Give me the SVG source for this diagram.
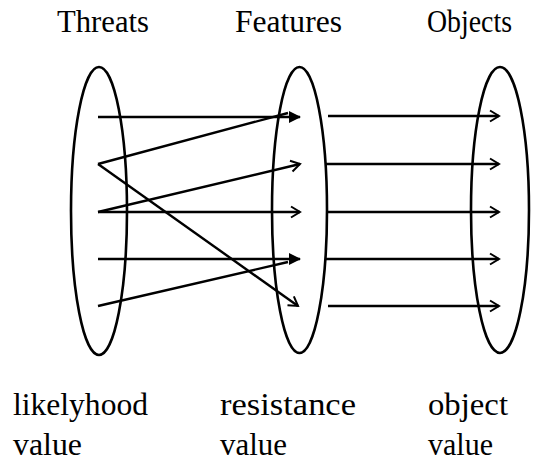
<svg xmlns="http://www.w3.org/2000/svg" width="543" height="469" viewBox="0 0 543 469">
  <defs>
    <marker id="open" markerWidth="12" markerHeight="14" refX="10" refY="7" orient="auto" markerUnits="userSpaceOnUse">
      <path d="M1,1.5 L10,7 L1,12.5" fill="none" stroke="#000" stroke-width="2"/>
    </marker>
    <marker id="solid" markerWidth="14" markerHeight="14" refX="12" refY="7" orient="auto" markerUnits="userSpaceOnUse">
      <path d="M1,1 L13,7 L1,13 Z" fill="#000"/>
    </marker>
  </defs>
  <style>
    .set { fill: none; stroke: #000; stroke-width: 2.6; }
    .lbl { font-family: "Liberation Serif", "DejaVu Serif", serif; font-size: 31px; fill: #000; }
    .edge { stroke: #000; stroke-width: 2.4; fill: none; }
    .open { marker-end: url(#open); }
    .solid { marker-end: url(#solid); }
  </style>
  <rect width="543" height="469" fill="#fff"/>

  <g id="threats">
    <ellipse class="set" cx="99" cy="211" rx="28" ry="144"/>
    <text class="lbl" x="57" y="32" textLength="92" lengthAdjust="spacingAndGlyphs">Threats</text>
    <text class="lbl" x="13" y="415" textLength="135" lengthAdjust="spacingAndGlyphs">likelyhood</text>
    <text class="lbl" x="13" y="455" textLength="69" lengthAdjust="spacingAndGlyphs">value</text>
  </g>

  <g id="features">
    <ellipse class="set" cx="299.5" cy="210" rx="27.5" ry="143"/>
    <text class="lbl" x="235" y="32" textLength="107" lengthAdjust="spacingAndGlyphs">Features</text>
    <text class="lbl" x="220" y="415" textLength="136" lengthAdjust="spacingAndGlyphs">resistance</text>
    <text class="lbl" x="220" y="455" textLength="67" lengthAdjust="spacingAndGlyphs">value</text>
  </g>

  <g id="objects">
    <ellipse class="set" cx="500" cy="210" rx="29" ry="143"/>
    <text class="lbl" x="427" y="32" textLength="85" lengthAdjust="spacingAndGlyphs">Objects</text>
    <text class="lbl" x="428" y="415" textLength="80" lengthAdjust="spacingAndGlyphs">object</text>
    <text class="lbl" x="428" y="455" textLength="65" lengthAdjust="spacingAndGlyphs">value</text>
  </g>

  <g id="connectors">
    <!-- threats to features -->
    <line class="edge solid" x1="98" y1="117" x2="300" y2="117"/>
    <line class="edge" x1="98" y1="164" x2="288" y2="113"/>
    <line class="edge open" x1="98" y1="164" x2="298" y2="306"/>
    <line class="edge open" x1="98" y1="212" x2="300" y2="164"/>
    <line class="edge open" x1="98" y1="212" x2="300" y2="212"/>
    <line class="edge solid" x1="98" y1="259" x2="300" y2="259"/>
    <line class="edge" x1="98" y1="306" x2="288" y2="262"/>
    <!-- features to objects -->
    <line class="edge open" x1="328" y1="116" x2="499" y2="116"/>
    <line class="edge open" x1="326" y1="164" x2="499" y2="164"/>
    <line class="edge open" x1="327" y1="212" x2="499" y2="212"/>
    <line class="edge open" x1="326" y1="259" x2="499" y2="259"/>
    <line class="edge open" x1="328" y1="306" x2="499" y2="306"/>
  </g>
</svg>
